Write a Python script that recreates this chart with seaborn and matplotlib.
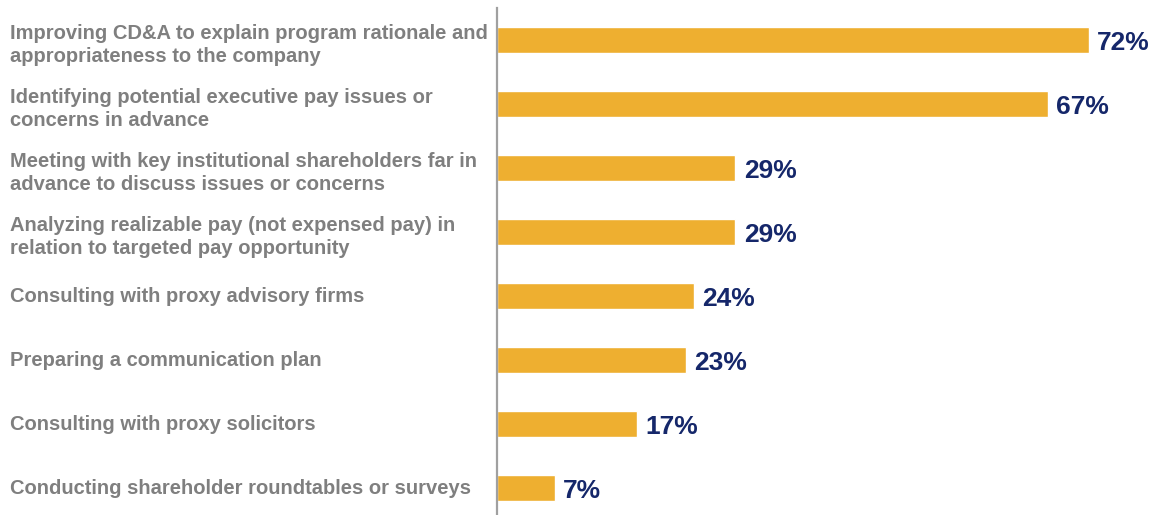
import matplotlib
matplotlib.use("Agg")
import matplotlib.pyplot as plt
import matplotlib.transforms as mtransforms
import seaborn as sns
import pandas as pd

categories = [
    "Improving CD&A to explain program rationale and\nappropriateness to the company",
    "Identifying potential executive pay issues or\nconcerns in advance",
    "Meeting with key institutional shareholders far in\nadvance to discuss issues or concerns",
    "Analyzing realizable pay (not expensed pay) in\nrelation to targeted pay opportunity",
    "Consulting with proxy advisory firms",
    "Preparing a communication plan",
    "Consulting with proxy solicitors",
    "Conducting shareholder roundtables or surveys",
]
values = [72, 67, 29, 29, 24, 23, 17, 7]

BAR_COLOR = "#EEAF30"
VALUE_COLOR = "#15276A"
LABEL_COLOR = "#7F7F7F"
AXIS_COLOR = "#A0A0A0"

sns.set_style("white")
plt.rcParams["font.family"] = ["Liberation Sans", "DejaVu Sans"]

W, H = 1162, 515
fig = plt.figure(figsize=(W / 100, H / 100), dpi=100)
ax = fig.add_axes([497 / W, 0, 1 - 497 / W, 507 / H])

df = pd.DataFrame({"category": categories, "value": values})
sns.barplot(data=df, x="value", y="category", orient="h", color=BAR_COLOR,
            width=0.41, saturation=1, ax=ax)

ax.set_xlim(0, 665 / 8.22)
ax.set_ylim(7.42, -0.5)
ax.set_xlabel("")
ax.set_ylabel("")
ax.set_xticks([])
ax.set_yticks([])
for side in ["top", "right", "bottom"]:
    ax.spines[side].set_visible(False)
ax.spines["left"].set_color(AXIS_COLOR)
ax.spines["left"].set_linewidth(1.6)

for cont in ax.containers:
    texts = ax.bar_label(cont, labels=[f"{v}%" for v in values], padding=6,
                         color=VALUE_COLOR, fontsize=19, fontweight="bold")
    for t in texts:
        t.set_verticalalignment("center_baseline")

trans = mtransforms.blended_transform_factory(fig.transFigure, ax.transData)
for i, cat in enumerate(categories):
    tr = trans
    if "\n" in cat:
        tr = trans + mtransforms.ScaledTranslation(0, -5 / 100, fig.dpi_scale_trans)
    ax.text(10 / W, i, cat, transform=tr, ha="left", va="center",
            color=LABEL_COLOR, fontsize=14.5, fontweight="bold",
            linespacing=1.3, clip_on=False)

fig.savefig("out.png", dpi=100)
